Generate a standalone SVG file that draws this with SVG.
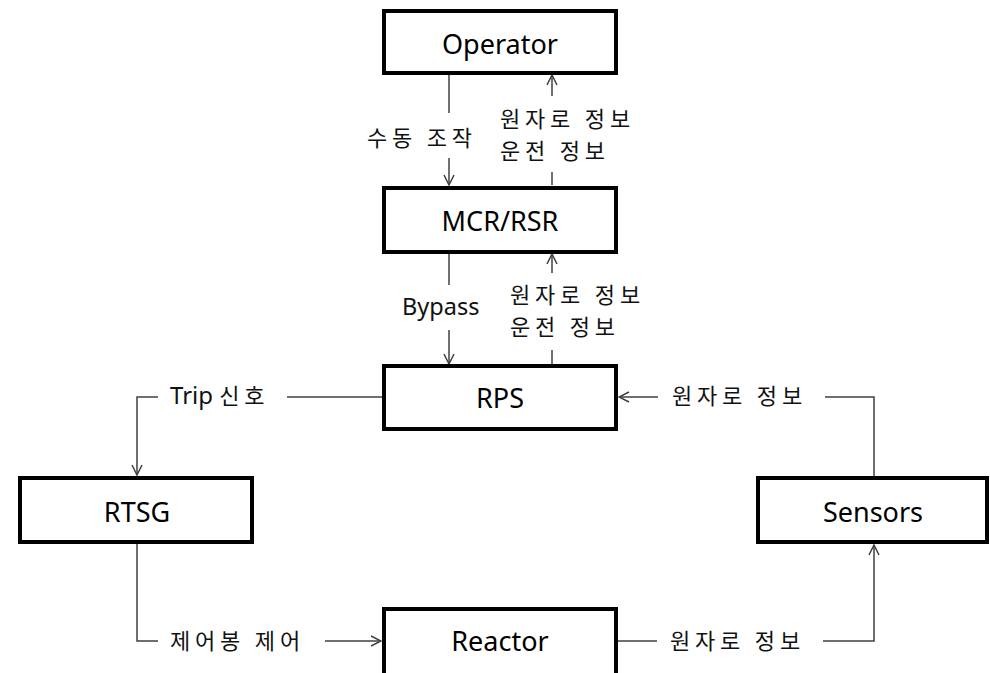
<svg xmlns="http://www.w3.org/2000/svg" width="990" height="673" viewBox="0 0 990 673">
<defs>
<style>
.box{fill:#fff;stroke:#000;stroke-width:4}
.nt{font-family:"Noto Sans","Noto Sans CJK KR",sans-serif;font-size:27px;fill:#000;text-anchor:middle}
.lb{font-family:"Noto Sans CJK KR","Noto Sans",sans-serif;font-size:22px;letter-spacing:4.8px;font-weight:400;fill:#111}
.c{fill:none;stroke:#404040;stroke-width:1.5}
</style>
<marker id="ah" viewBox="0 0 12 12" refX="11" refY="6" markerWidth="12" markerHeight="12" markerUnits="userSpaceOnUse" orient="auto">
<path d="M1,1 L11,6 L1,11" fill="none" stroke="#404040" stroke-width="1.5"/>
</marker>
</defs>
<rect width="990" height="673" fill="#fff"/>
<g id="connectors">
<line class="c" x1="449" y1="75" x2="449" y2="113"/>
<line class="c" x1="449" y1="158" x2="449" y2="185" marker-end="url(#ah)"/>
<line class="c" x1="552" y1="185" x2="552" y2="172"/>
<line class="c" x1="552" y1="96" x2="552" y2="75" marker-end="url(#ah)"/>
<line class="c" x1="449" y1="254" x2="449" y2="285"/>
<line class="c" x1="449" y1="330" x2="449" y2="364" marker-end="url(#ah)"/>
<line class="c" x1="552" y1="364" x2="552" y2="350"/>
<line class="c" x1="552" y1="273" x2="552" y2="254" marker-end="url(#ah)"/>
<polyline class="c" points="383,397 287,397"/>
<polyline class="c" points="158,397 137,397 137,475" marker-end="url(#ah)"/>
<polyline class="c" points="137,544 137,641 158,641"/>
<line class="c" x1="325" y1="641" x2="381" y2="641" marker-end="url(#ah)"/>
<line class="c" x1="618" y1="641" x2="657" y2="641"/>
<polyline class="c" points="823,641 874,641 874,545" marker-end="url(#ah)"/>
<polyline class="c" points="874,477 874,397 825,397"/>
<line class="c" x1="658" y1="397" x2="619" y2="397" marker-end="url(#ah)"/>
</g>
<g id="operator"><rect class="box" x="384" y="11" width="232" height="62"/><text class="nt" x="500" y="54">Operator</text></g>
<g id="mcr"><rect class="box" x="384" y="188" width="232" height="64"/><text class="nt" x="500" y="231">MCR/RSR</text></g>
<g id="rps"><rect class="box" x="384" y="366" width="232" height="63"/><text class="nt" x="500" y="408">RPS</text></g>
<g id="rtsg"><rect class="box" x="20" y="478" width="232" height="64"/><text class="nt" x="137" y="522">RTSG</text></g>
<g id="sensors"><rect class="box" x="758" y="478" width="229" height="64"/><text class="nt" x="873" y="522">Sensors</text></g>
<g id="reactor"><rect class="box" x="384" y="609" width="232" height="70"/><text class="nt" x="500" y="651">Reactor</text></g>
<g id="labels">
<text class="lb" x="367" y="146">수동 조작</text>
<text class="lb" x="500" y="127">원자로 정보<tspan x="500" dy="32">운전 정보</tspan></text>
<text class="lb" x="402" y="315" style="font-family:'Noto Sans',sans-serif;font-size:23.5px;letter-spacing:0">Bypass</text>
<text class="lb" x="510" y="303">원자로 정보<tspan x="510" dy="32">운전 정보</tspan></text>
<text class="lb" x="170" y="404"><tspan style="font-family:'Noto Sans',sans-serif;font-size:24px;letter-spacing:0">Trip </tspan>신호</text>
<text class="lb" x="170" y="649">제어봉 제어</text>
<text class="lb" x="672" y="404">원자로 정보</text>
<text class="lb" x="670" y="649">원자로 정보</text>
</g>
</svg>
